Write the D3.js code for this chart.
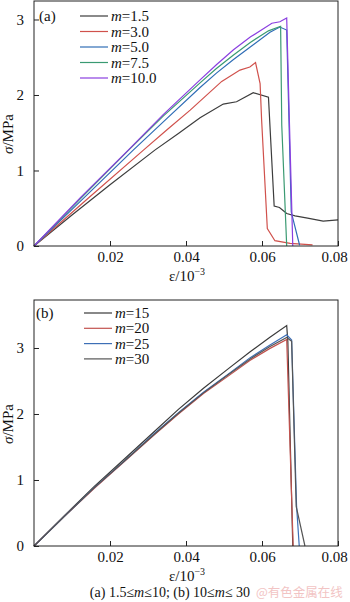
<!DOCTYPE html>
<html>
<head>
<meta charset="utf-8">
<script src="https://cdn.jsdelivr.net/npm/d3@7/dist/d3.min.js"></script>
<style>
  body { margin: 0; background: #fff; }
  text { font-family: "Liberation Serif", "Times New Roman", serif; fill: #111; }
</style>
</head>
<body>
<svg id="chart" width="350" height="602"></svg>
<script>
// panel (a): 1.5 <= m <= 10
var mA = ["1.5", "3.0", "5.0", "7.5", "10.0"]
var colorsA = ["#3d3d3d", "#d0514c", "#2f6db6", "#3a9a72", "#8a3fe0"]
var curvesA = [
  [[0,0],[0.01,0.41],[0.02,0.81],[0.0318,1.27],[0.038,1.49],[0.0437,1.70],[0.0498,1.88],[0.0533,1.91],[0.0577,2.03],[0.0617,1.97],[0.0632,0.53],[0.0646,0.51],[0.0665,0.43],[0.0687,0.40],[0.072,0.37],[0.0761,0.33],[0.08,0.345]],
  [[0,0],[0.0144,0.64],[0.0288,1.27],[0.035,1.54],[0.0411,1.80],[0.0494,2.18],[0.0542,2.33],[0.0568,2.37],[0.0583,2.43],[0.0595,2.15],[0.0599,1.67],[0.0614,0.23],[0.0634,0.07],[0.0674,0.035],[0.0733,0.015]],
  [[0,0],[0.013,0.63],[0.0261,1.27],[0.035,1.69],[0.0437,2.10],[0.048,2.29],[0.0525,2.47],[0.057,2.64],[0.0621,2.83],[0.0647,2.90],[0.0665,2.86],[0.0677,0.45],[0.0699,0.01]],
  [[0,0],[0.0125,0.64],[0.0249,1.27],[0.034,1.72],[0.0437,2.16],[0.048,2.35],[0.0525,2.53],[0.057,2.70],[0.0617,2.85],[0.0649,2.91],[0.0652,1.6],[0.0665,0]],
  [[0,0],[0.0124,0.65],[0.0248,1.27],[0.034,1.74],[0.0437,2.20],[0.048,2.40],[0.0525,2.60],[0.057,2.77],[0.0626,2.95],[0.0647,2.97],[0.0665,3.02],[0.0672,1.67],[0.0681,0]]
]

// panel (b): 10 <= m <= 30
var mB = ["15", "20", "25", "30"]
var colorsB = ["#3a3a3a", "#c2524e", "#3d6fb6", "#555555"]
var curvesB = [
  [[0,0],[0.008,0.46],[0.0158,0.90],[0.024,1.33],[0.0316,1.73],[0.038,2.07],[0.0446,2.39],[0.051,2.68],[0.0568,2.94],[0.062,3.16],[0.0665,3.34],[0.0668,3.10],[0.0681,0]],
  [[0,0],[0.008,0.45],[0.0158,0.87],[0.024,1.29],[0.0316,1.68],[0.038,2.00],[0.0446,2.31],[0.051,2.57],[0.0568,2.81],[0.062,2.99],[0.0665,3.13],[0.0682,0]],
  [[0,0],[0.008,0.45],[0.0158,0.88],[0.024,1.30],[0.0316,1.70],[0.038,2.02],[0.0446,2.33],[0.051,2.60],[0.0568,2.85],[0.062,3.04],[0.0665,3.20],[0.0678,3.12],[0.0691,0.6],[0.0698,0]],
  [[0,0],[0.008,0.45],[0.0158,0.88],[0.024,1.30],[0.0316,1.69],[0.038,2.01],[0.0446,2.32],[0.051,2.59],[0.0568,2.83],[0.062,3.02],[0.0665,3.16],[0.0678,3.10],[0.0690,0.6],[0.0713,0]]
]

var xTicks = [0.02, 0.04, 0.06, 0.08]
var yTicks = [0, 1, 2, 3]

var svg = d3.select("#chart")

function panel(opt) {
  var x = d3.scaleLinear().domain([0, 0.08]).range([34, 338])
  var y = d3.scaleLinear().domain([0, opt.yMax]).range([opt.bottom, opt.top])
  var g = svg.append("g")

  // lines
  var line = d3.line().x(function(d) { return x(d[0]) }).y(function(d) { return y(d[1]) })
  opt.curves.forEach(function(c, i) {
    g.append("path")
      .attr("d", line(c))
      .attr("fill", "none")
      .attr("stroke", opt.colors[i])
      .attr("stroke-width", 1.2)
  })

  // frame
  g.append("rect")
    .attr("x", 34).attr("y", opt.top)
    .attr("width", 304).attr("height", opt.bottom - opt.top)
    .attr("fill", "none").attr("stroke", "#222").attr("stroke-width", 1)

  // axes, ticks inside
  var xa = g.append("g").attr("transform", "translate(0," + opt.bottom + ")")
    .call(d3.axisBottom(x).tickValues(xTicks).tickSizeInner(-5).tickSizeOuter(0).tickPadding(5).tickFormat(d3.format(".2f")))
  var ya = g.append("g").attr("transform", "translate(34,0)")
    .call(d3.axisLeft(y).tickValues(yTicks).tickSizeInner(-5).tickSizeOuter(0).tickPadding(10).tickFormat(d3.format("d")))
  ;[xa, ya].forEach(function(a) {
    a.select(".domain").remove()
    a.selectAll("line").attr("stroke", "#222")
    a.selectAll("text").attr("font-size", 15).attr("fill", "#111")
  })
  // last x label would run past the right edge
  xa.selectAll(".tick text").filter(function(d) { return d === 0.08 }).attr("dx", -4)

  // axis titles
  var xt = g.append("text").attr("x", 187).attr("y", opt.bottom + 35)
    .attr("text-anchor", "middle").attr("font-size", 15)
  xt.append("tspan").text("ε/10")
  xt.append("tspan").attr("dy", -6).attr("font-size", 10).text("−3")

  var yt = g.append("text")
    .attr("transform", "translate(13," + opt.yTitle + ") rotate(-90)")
    .attr("text-anchor", "middle").attr("font-size", 15)
  yt.append("tspan").attr("font-style", "italic").text("σ")
  yt.append("tspan").text("/MPa")

  // panel tag
  g.append("text").attr("x", opt.tagX).attr("y", opt.legY + 5).attr("font-size", 15).text(opt.tag)

  // legend
  opt.labels.forEach(function(m, i) {
    var ly = opt.legY + i * opt.legStep
    g.append("line")
      .attr("x1", opt.legX).attr("x2", opt.legX + 28)
      .attr("y1", ly).attr("y2", ly)
      .attr("stroke", opt.colors[i]).attr("stroke-width", 1.2)
    var t = g.append("text").attr("x", opt.legX + 31).attr("y", ly + 5).attr("font-size", 15)
    t.append("tspan").attr("font-style", "italic").text("m")
    t.append("tspan").text("=" + m)
  })
}

panel({ curves: curvesA, colors: colorsA, labels: mA, yMax: 3.245, top: 1, bottom: 246,
        yTitle: 134, tag: "(a)", tagX: 39, legX: 80, legY: 16, legStep: 15.5 })
panel({ curves: curvesB, colors: colorsB, labels: mB, yMax: 3.727, top: 300, bottom: 546,
        yTitle: 424, tag: "(b)", tagX: 36, legY: 313, legX: 84, legStep: 15.3 })

// caption
var cap = svg.append("text").attr("x", 170).attr("y", 597).attr("text-anchor", "middle").attr("font-size", 14)
cap.append("tspan").text("(a) 1.5≤")
cap.append("tspan").attr("font-style", "italic").text("m")
cap.append("tspan").text("≤10; (b) 10≤")
cap.append("tspan").attr("font-style", "italic").text("m")
cap.append("tspan").text("≤ 30")

svg.append("text").attr("x", 256).attr("y", 597).attr("font-size", 12.5)
  .style("font-family", "Noto Sans CJK SC").style("fill", "#f2c4c4").text("@有色金属在线")
</script>
</body>
</html>
